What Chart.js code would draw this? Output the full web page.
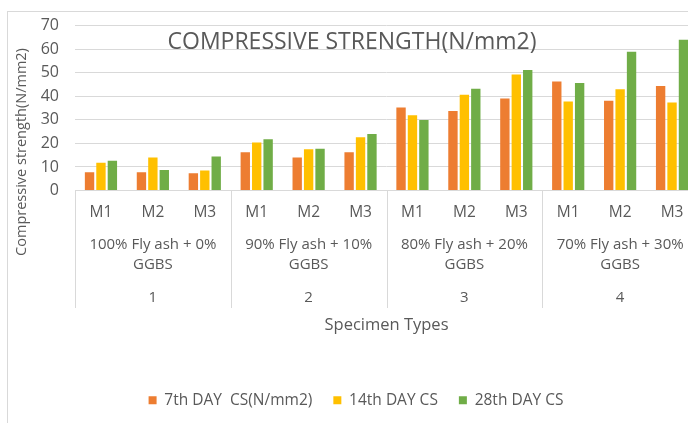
<!DOCTYPE html>
<html>
<head>
<meta charset="utf-8">
<script src="https://cdn.jsdelivr.net/npm/chart.js@4.4.0/dist/chart.umd.min.js"></script>
<style>
  html, body { margin: 0; padding: 0; background: #fff; overflow: hidden; }
  #wrap { width: 688px; height: 423px; overflow: hidden; position: relative; }
  #box { width: 700px; height: 423px; }
</style>
</head>
<body>
<div id="wrap"><div id="box"><canvas id="chart"></canvas></div></div>
<script>
// mix labels, one per bar cluster
const mixLabels = ['M1', 'M2', 'M3', 'M1', 'M2', 'M3', 'M1', 'M2', 'M3', 'M1', 'M2', 'M3'];
// second and third level of the category axis
const groupNames = [
  ['100% Fly ash + 0%', 'GGBS'],
  ['90% Fly ash + 10%', 'GGBS'],
  ['80% Fly ash + 20%', 'GGBS'],
  ['70% Fly ash + 30%', 'GGBS']
];
const groupNumbers = ['1', '2', '3', '4'];

// compressive strength, N/mm2
const day7 = [7.8, 7.8, 7.3, 16.2, 14.0, 16.2, 35.2, 33.7, 39.1, 46.3, 38.1, 44.4];
const day14 = [11.8, 14.0, 8.5, 20.4, 17.5, 22.6, 31.9, 40.6, 49.2, 37.8, 43.0, 37.4];
const day28 = [12.6, 8.7, 14.4, 21.8, 17.7, 24.0, 29.9, 43.2, 51.2, 45.6, 58.9, 64.0];

const FONT = '"Open Sans", sans-serif';
const TEXT = '#595959';
const GRID = '#d9d9d9';

// draws the frame, title, axis title and the grouped category levels
const excelBits = {
  id: 'excelBits',
  afterDraw(chart) {
    const { ctx, chartArea } = chart;
    ctx.save();

    // outer frame (right and bottom are cut off in the picture)
    ctx.strokeStyle = GRID;
    ctx.lineWidth = 1;
    ctx.strokeRect(7.5, 11.5, 800, 500);

    // title sits over the plot, gridline runs through it
    ctx.font = '23px ' + FONT;
    ctx.fillStyle = TEXT;
    ctx.textAlign = 'center';
    ctx.textBaseline = 'middle';
    ctx.fillText('COMPRESSIVE STRENGTH(N/mm2)', 352, 42);

    // y axis title
    ctx.save();
    ctx.translate(22, 152);
    ctx.rotate(-Math.PI / 2);
    ctx.font = '14.5px ' + FONT;
    ctx.fillText('Compressive strength(N/mm2)', 0, 0);
    ctx.restore();

    // group separators and labels
    const gw = chartArea.width / groupNames.length;
    ctx.strokeStyle = GRID;
    for (let i = 0; i <= groupNames.length; i++) {
      const x = Math.round(chartArea.left + i * gw) + 0.5;
      ctx.beginPath();
      ctx.moveTo(x, chartArea.bottom);
      ctx.lineTo(x, 308);
      ctx.stroke();
    }
    ctx.font = '15px ' + FONT;
    ctx.fillStyle = TEXT;
    groupNames.forEach((lines, i) => {
      const cx = chartArea.left + (i + 0.5) * gw;
      ctx.fillText(lines[0], cx, 245);
      ctx.fillText(lines[1], cx, 265);
      ctx.fillText(groupNumbers[i], cx, 298);
    });

    ctx.font = '16.5px ' + FONT;
    ctx.fillText('Specimen Types', (chartArea.left + chartArea.right) / 2, 325);
    ctx.restore();
  }
};

new Chart(document.getElementById('chart'), {
  type: 'bar',
  data: {
    labels: mixLabels,
    datasets: [
      { label: '7th DAY  CS(N/mm2)', data: day7, backgroundColor: '#ED7D31' },
      { label: '14th DAY CS', data: day14, backgroundColor: '#FFC000' },
      { label: '28th DAY CS', data: day28, backgroundColor: '#70AD47' }
    ]
  },
  options: {
    responsive: true,
    maintainAspectRatio: false,
    animation: false,
    categoryPercentage: 0.66,
    barPercentage: 0.82,
    layout: { padding: { top: 22, right: 2, bottom: 5, left: 14 } },
    plugins: {
      tooltip: { enabled: false },
      legend: {
        position: 'bottom',
        labels: {
          boxWidth: 8,
          boxHeight: 8,
          padding: 21,
          color: TEXT,
          font: { family: FONT, size: 15.5 }
        }
      }
    },
    scales: {
      x: {
        afterFit: (s) => { s.height = 181; },
        grid: { display: false, drawTicks: false },
        border: { color: GRID },
        ticks: { color: TEXT, padding: 13, font: { family: FONT, size: 15.5 } }
      },
      y: {
        min: 0,
        max: 70,
        afterFit: (s) => { s.width = 61; },
        grid: { color: GRID, drawTicks: false },
        border: { display: false },
        ticks: { stepSize: 10, color: TEXT, padding: 16, font: { family: FONT, size: 16 } }
      }
    }
  },
  plugins: [excelBits]
});
</script>
</body>
</html>
